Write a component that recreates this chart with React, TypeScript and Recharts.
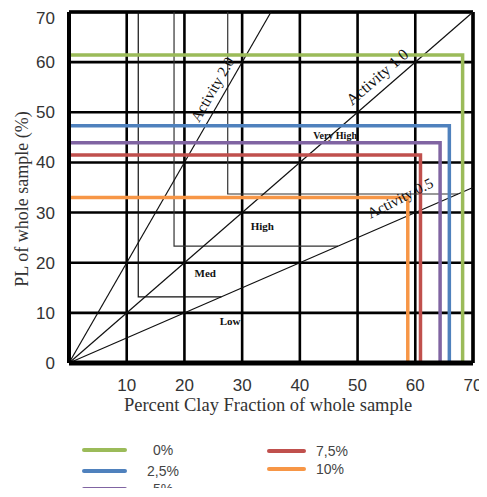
import React from "react"
import { ComposedChart, Line, XAxis, YAxis, CartesianGrid, ReferenceLine, ReferenceDot } from "recharts"

// axis ticks
const xTicks = [0, 10, 20, 30, 40, 50, 60, 70]
const yTicks = [0, 10, 20, 30, 40, 50, 60, 70]

// activity reference lines (PL = activity * clay)
const activity20 = [{ x: 0, y: 0 }, { x: 35, y: 70 }]
const activity10 = [{ x: 0, y: 0 }, { x: 70, y: 70 }]
const activity05 = [{ x: 0, y: 0 }, { x: 70, y: 35 }]

// zone boundaries
const medZone = [{ x: 12, y: 70 }, { x: 12, y: 13.2 }, { x: 26.4, y: 13.2 }]
const highZone = [{ x: 18.2, y: 70 }, { x: 18.2, y: 23.3 }, { x: 46.6, y: 23.3 }]
const veryHighZone = [{ x: 27.5, y: 70 }, { x: 27.5, y: 33.7 }, { x: 67.4, y: 33.7 }]

// samples: PL (y) and clay fraction (x)
const s0 = [{ x: 0, y: 61.4 }, { x: 68.2, y: 61.4 }, { x: 68.2, y: 0 }]
const s25 = [{ x: 0, y: 47.3 }, { x: 65.9, y: 47.3 }, { x: 65.9, y: 0 }]
const s5 = [{ x: 0, y: 43.9 }, { x: 64.3, y: 43.9 }, { x: 64.3, y: 0 }]
const s75 = [{ x: 0, y: 41.5 }, { x: 60.9, y: 41.5 }, { x: 60.9, y: 0 }]
const s10 = [{ x: 0, y: 33.0 }, { x: 58.7, y: 33.0 }, { x: 58.7, y: 0 }]

const series = [
  { name: "0%", data: s0, color: "#9bbb59" },
  { name: "2,5%", data: s25, color: "#4f81bd" },
  { name: "5%", data: s5, color: "#8064a2" },
  { name: "7,5%", data: s75, color: "#c0504d" },
  { name: "10%", data: s10, color: "#f79646" },
]

function TextMark(props: any) {
  const { viewBox, text, rot = 0, size = 12, bold = false } = props
  if (!viewBox) return null
  const cx = viewBox.x + (viewBox.width || 0) / 2
  const cy = viewBox.y + (viewBox.height || 0) / 2
  return (
    <text
      x={cx}
      y={cy}
      textAnchor="middle"
      dominantBaseline="middle"
      transform={`rotate(${rot} ${cx} ${cy})`}
      fontFamily="'Liberation Serif', serif"
      fontSize={size}
      fontWeight={bold ? "bold" : "normal"}
      fill="#111"
    >
      {text}
    </text>
  )
}

const thin = { stroke: "#111", strokeWidth: 1.2 }

export default function App() {
  return (
    <div style={{ position: "relative", width: 479, height: 480, fontFamily: "'Liberation Sans', sans-serif" }}>
      <style>{`html, body { overflow: hidden; } .recharts-surface { overflow: visible; }`}</style>
      <ComposedChart width={479} height={420} margin={{ top: 4, right: 14, bottom: 15, left: 0 }}>
        <CartesianGrid stroke="#000" strokeWidth={2.6} horizontalValues={yTicks} verticalValues={xTicks} />
        <XAxis
          type="number"
          dataKey="x"
          domain={[0, 70]}
          ticks={xTicks}
          tickFormatter={(v) => (v === 0 ? "" : String(v))}
          tickLine={false}
          tickMargin={10}
          height={50}
          axisLine={{ stroke: "#000", strokeWidth: 5 }}
          tick={{ fill: "#333", fontSize: 17 }}
        />
        <YAxis
          type="number"
          dataKey="y"
          domain={[0, 70]}
          ticks={yTicks}
          tickLine={false}
          tickMargin={8}
          width={61}
          axisLine={{ stroke: "#000", strokeWidth: 4 }}
          tick={{ fill: "#333", fontSize: 17 }}
        />
        <ReferenceLine y={70} stroke="#000" strokeWidth={3.5} />
        <ReferenceLine x={70} stroke="#000" strokeWidth={3.5} />

        <Line data={medZone} dataKey="y" {...thin} dot={false} isAnimationActive={false} />
        <Line data={highZone} dataKey="y" {...thin} stroke="#333" dot={false} isAnimationActive={false} />
        <Line data={veryHighZone} dataKey="y" {...thin} stroke="#333" dot={false} isAnimationActive={false} />
        <Line data={activity20} dataKey="y" {...thin} dot={false} isAnimationActive={false} />
        <Line data={activity10} dataKey="y" {...thin} dot={false} isAnimationActive={false} />
        <Line data={activity05} dataKey="y" {...thin} dot={false} isAnimationActive={false} />

        {series.map((s) => (
          <Line
            key={s.name}
            data={s.data}
            dataKey="y"
            name={s.name}
            stroke={s.color}
            strokeWidth={3.5}
            dot={false}
            isAnimationActive={false}
          />
        ))}

        <ReferenceDot x={25.1} y={54.4} r={0} fill="none" stroke="none" label={<TextMark text="Activity 2.0" rot={-60} size={15} />} />
        <ReferenceDot x={53.6} y={56.8} r={0} fill="none" stroke="none" label={<TextMark text="Activity 1.0" rot={-41} size={16} />} />
        <ReferenceDot x={57.5} y={32.6} r={0} fill="none" stroke="none" label={<TextMark text="Activity 0.5" rot={-27} size={15} />} />
        <ReferenceDot x={46.1} y={45.2} r={0} fill="none" stroke="none" label={<TextMark text="Very High" size={10} bold />} />
        <ReferenceDot x={33.5} y={27.1} r={0} fill="none" stroke="none" label={<TextMark text="High" size={11} bold />} />
        <ReferenceDot x={23.6} y={17.6} r={0} fill="none" stroke="none" label={<TextMark text="Med" size={11} bold />} />
        <ReferenceDot x={27.9} y={8.0} r={0} fill="none" stroke="none" label={<TextMark text="Low" size={11} bold />} />
      </ComposedChart>

      <div
        style={{
          position: "absolute",
          left: 14,
          top: 191,
          transform: "translate(-50%, -50%) rotate(-90deg)",
          whiteSpace: "nowrap",
          fontFamily: "'Liberation Serif', serif",
          fontSize: 18,
          color: "#333",
        }}
      >
        PL of whole sample (%)
      </div>
      <div
        style={{
          position: "absolute",
          left: 260,
          top: 397,
          transform: "translate(-50%, -50%)",
          whiteSpace: "nowrap",
          fontFamily: "'Liberation Serif', serif",
          fontSize: 18.5,
          color: "#333",
        }}
      >
        Percent Clay Fraction of whole sample
      </div>

      {series.map((s, i) => {
        const col = i < 3 ? 0 : 1
        const row = i < 3 ? i : i - 3
        const left = col === 0 ? 74 : 259
        const top = col === 0 ? [434, 455, 473][row] : [435, 453][row]
        return (
          <div key={s.name} style={{ position: "absolute", left, top, display: "flex", alignItems: "center", height: 16 }}>
            <div style={{ width: col === 0 ? 45 : 39, height: 4, background: s.color, borderRadius: 2 }} />
            <div style={{ marginLeft: col === 0 ? 14 : 10, width: 44, textAlign: col === 0 ? "center" : "left", fontSize: 14, lineHeight: "16px", color: "#444", fontFamily: "'Liberation Sans', sans-serif" }}>
              {s.name}
            </div>
          </div>
        )
      })}
    </div>
  )
}
